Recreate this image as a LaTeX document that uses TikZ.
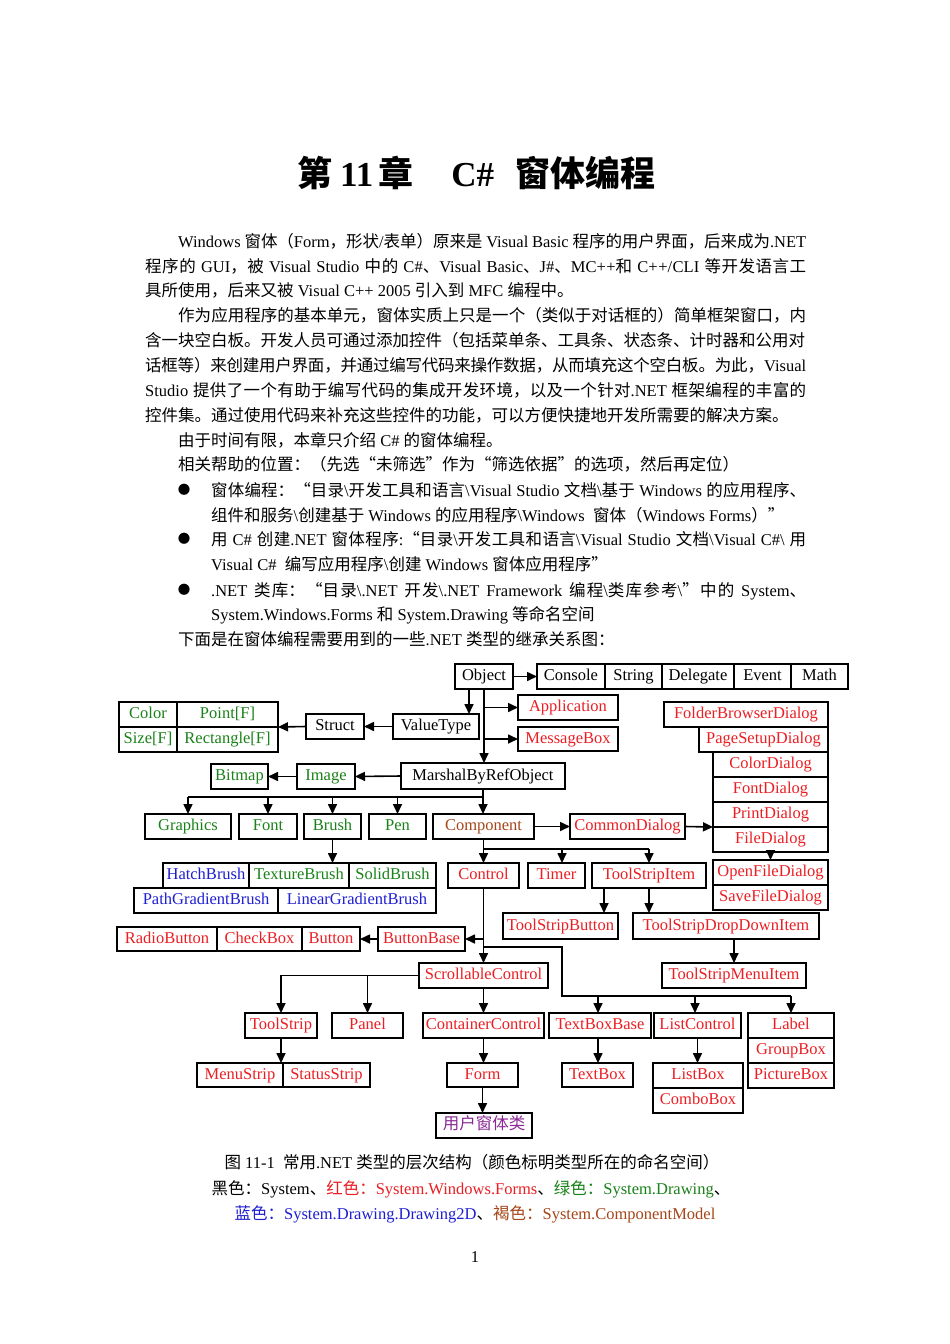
\documentclass[tikz,border=0pt]{standalone}
\usepackage{fontspec}
\setmainfont{Liberation Serif}
\newfontfamily\cjkfont{Noto Sans CJK SC}
\usetikzlibrary{arrows.meta}
% --- automatic switch to the CJK font for CJK characters ---
\XeTeXinterchartokenstate=1
\newXeTeXintercharclass\CJKcls
\makeatletter
\count@="4E00
\loop\XeTeXcharclass\count@=\CJKcls\ifnum\count@<"9FFF\advance\count@\@ne\repeat
\count@="3000
\loop\XeTeXcharclass\count@=\CJKcls\ifnum\count@<"303F\advance\count@\@ne\repeat
\count@="FF00
\loop\XeTeXcharclass\count@=\CJKcls\ifnum\count@<"FFEF\advance\count@\@ne\repeat
\XeTeXcharclass"201C=\CJKcls
\XeTeXcharclass"201D=\CJKcls
\XeTeXcharclass"25CF=\CJKcls
\makeatother
\XeTeXinterchartoks 0 \CJKcls = {\begingroup\cjkfont}
\XeTeXinterchartoks 4095 \CJKcls = {\begingroup\cjkfont}
\XeTeXinterchartoks \CJKcls 0 = {\endgroup}
\XeTeXinterchartoks \CJKcls 4095 = {\endgroup}
\XeTeXlinebreaklocale "zh"
\XeTeXlinebreakskip=0pt plus 1pt minus 0.3pt
% --- colours ---
\definecolor{cred}{RGB}{235,30,35}
\definecolor{cgreen}{RGB}{25,130,25}
\definecolor{cblue}{RGB}{30,30,210}
\definecolor{cbrown}{RGB}{165,70,25}
\definecolor{cpurple}{RGB}{140,40,150}
\newcommand\bfnt{\fontsize{16.5}{20}\selectfont}
\newcommand\dgfnt{\fontsize{16.5}{18}\selectfont}
\newcommand\bx[7]{\node[box,text=#6,minimum width={#4-#2},minimum height={#5-#3}] (#1) at ({(#2+#4)/2},{(#3+#5)/2}) {#7};}
\newcommand\bs{\textbackslash}
\newcommand\jline[2]{\parbox[b]{#1}{\parindent=0pt\parfillskip=0pt\tolerance=10000\emergencystretch=0pt\relax #2}}
\begin{document}
\begin{tikzpicture}[x=1pt,y=-1pt,
  box/.style={draw,line width=1.3pt,inner sep=0pt,outer sep=0pt,font=\dgfnt,text height=11.5pt,text depth=3.5pt},
  thickbox/.style={line width=1.9pt},
  arr/.style={draw,line width=1.6pt,-{Triangle[length=10pt,width=9pt]}},
  ln/.style={draw,line width=1.6pt},
  tl/.style={anchor=base west,inner sep=0pt,font=\bfnt},
  cl/.style={anchor=base,inner sep=0pt,font=\bfnt},
  bul/.style={inner sep=0pt,font=\fontsize{12.5}{14}\selectfont}]
\fill[white] (0,0) rectangle (950,1344);
\useasboundingbox (0,0) rectangle (950,1344);

% ---------- title ----------
\node[anchor=base west,inner sep=0pt,font=\fontsize{35}{40}\selectfont\bfseries] (title) at (297,186)
  {第\hspace{8pt}11\hspace{5pt}章\hspace{38pt}C\#\hspace{21pt}窗体编程};

% ---------- body text ----------
\node[tl] (l1) at (178,247) {\jline{628pt}{Windows 窗体（Form，形状/表单）原来是 Visual Basic 程序的用户界面，后来成为.NET}};
\node[tl] (l2) at (145,272) {\jline{661pt}{程序的 GUI，被 Visual Studio 中的 C\#、Visual Basic、J\#、MC++和 C++/CLI 等开发语言工}};
\node[tl] (l3) at (145,296) {具所使用，后来又被 Visual C++ 2005 引入到 MFC 编程中。};
\node[tl] (l4) at (178,321) {\jline{628pt}{作为应用程序的基本单元，窗体实质上只是一个（类似于对话框的）简单框架窗口，内}};
\node[tl] (l5) at (145,346) {含一块空白板。开发人员可通过添加控件（包括菜单条、工具条、状态条、计时器和公用对};
\node[tl] (l6) at (145,371) {\jline{661pt}{话框等）来创建用户界面，并通过编写代码来操作数据，从而填充这个空白板。为此，Visual}};
\node[tl] (l7) at (145,396) {\jline{661pt}{Studio 提供了一个有助于编写代码的集成开发环境，以及一个针对.NET 框架编程的丰富的}};
\node[tl] (l8) at (145,421) {控件集。通过使用代码来补充这些控件的功能，可以方便快捷地开发所需要的解决方案。};
\node[tl] (l9) at (178,446) {由于时间有限，本章只介绍 C\# 的窗体编程。};
\node[tl] (l10) at (178,470) {相关帮助的位置：（先选“未筛选”作为“筛选依据”的选项，然后再定位）};
\node[bul] (b1) at (184,490) {●};
\node[tl] (l11) at (211,496) {\jline{595pt}{窗体编程：“目录\bs 开发工具和语言\bs Visual Studio 文档\bs 基于 Windows 的应用程序、}};
\node[tl] (l12) at (211,521) {组件和服务\bs 创建基于 Windows 的应用程序\bs Windows\ \ 窗体（Windows Forms）”};
\node[bul] (b2) at (184,539) {●};
\node[tl] (l13) at (211,545) {\jline{595pt}{用 C\# 创建.NET 窗体程序:“目录\bs 开发工具和语言\bs Visual Studio 文档\bs Visual C\#\bs\ 用}};
\node[tl] (l14) at (211,570) {Visual C\#\ \ 编写应用程序\bs 创建 Windows 窗体应用程序”};
\node[bul] (b3) at (184,590) {●};
\node[tl] (l15) at (211,596) {\jline{595pt}{.NET 类库：“目录\bs.NET 开发\bs.NET Framework 编程\bs 类库参考\bs”中的 System、}};
\node[tl] (l16) at (211,620) {System.Windows.Forms 和 System.Drawing 等命名空间};
\node[tl] (l17) at (178,645) {下面是在窗体编程需要用到的一些.NET 类型的继承关系图：};

% ---------- diagram boxes ----------
\bx{obj}{455}{664}{513}{689}{black}{Object}
\bx{console}{537}{664}{605}{689}{black}{Console}
\bx{string}{605}{664}{662}{689}{black}{String}
\bx{delegate}{662}{664}{734}{689}{black}{Delegate}
\bx{event}{734}{664}{791}{689}{black}{Event}
\bx{math}{791}{664}{848}{689}{black}{Math}
\bx{app}{518}{695}{618}{720}{cred}{Application}
\bx{mb}{518}{727}{618}{751}{cred}{MessageBox}
\bx{vt}{393}{714}{479}{739}{black}{ValueType}
\bx{struct}{306}{714}{364}{739}{black}{Struct}
\bx{color}{119}{702}{177}{727}{cgreen}{Color}
\bx{point}{177}{702}{278}{727}{cgreen}{Point[F]}
\bx{size}{119}{727}{177}{752}{cgreen}{Size[F]}
\bx{rect}{177}{727}{278}{752}{cgreen}{Rectangle[F]}
\bx{fbd}{664}{702}{828}{727}{cred}{FolderBrowserDialog}
\bx{psd}{699}{727}{828}{752}{cred}{PageSetupDialog}
\bx{cdlg}{713}{752}{828}{777}{cred}{ColorDialog}
\bx{fdlg}{713}{777}{828}{802}{cred}{FontDialog}
\bx{pdlg}{713}{802}{828}{827}{cred}{PrintDialog}
\bx{filed}{713}{827}{828}{852}{cred}{FileDialog}
\begin{scope}[box/.append style={thickbox}]
\bx{mbro}{401}{763}{565}{789}{black}{MarshalByRefObject}
\bx{img}{297}{764}{355}{789}{cgreen}{Image}
\bx{bmp}{211}{764}{268}{789}{cgreen}{Bitmap}
\end{scope}
\bx{graphics}{145}{814}{231}{839}{cgreen}{Graphics}
\bx{font}{239}{814}{297}{839}{cgreen}{Font}
\bx{brush}{304}{814}{361}{839}{cgreen}{Brush}
\bx{pen}{369}{814}{426}{839}{cgreen}{Pen}
\bx{comp}{433}{814}{534}{839}{cbrown}{Component}
\bx{cd}{570}{814}{685}{839}{cred}{CommonDialog}
\bx{hatch}{163}{863}{249}{888}{cblue}{HatchBrush}
\bx{texture}{249}{863}{349}{888}{cgreen}{TextureBrush}
\bx{solid}{349}{863}{436}{888}{cgreen}{SolidBrush}
\bx{pathg}{134}{888}{278}{913}{cblue}{PathGradientBrush}
\bx{lineg}{278}{888}{436}{913}{cblue}{LinearGradientBrush}
\bx{control}{448}{863}{519}{888}{cred}{Control}
\bx{timer}{528}{863}{585}{888}{cred}{Timer}
\bx{tsi}{592}{863}{706}{888}{cred}{ToolStripItem}
\bx{ofd}{713}{860}{828}{885}{cred}{OpenFileDialog}
\bx{sfd}{713}{885}{828}{910}{cred}{SaveFileDialog}
\bx{tsb}{503}{913}{618}{939}{cred}{ToolStripButton}
\bx{tsddi}{633}{913}{819}{939}{cred}{ToolStripDropDownItem}
\bx{radio}{117}{927}{217}{951}{cred}{RadioButton}
\bx{check}{217}{927}{302}{951}{cred}{CheckBox}
\bx{button}{302}{927}{360}{951}{cred}{Button}
\bx{bb}{378}{927}{465}{951}{cred}{ButtonBase}
\bx{sc}{419}{963}{548}{988}{cred}{ScrollableControl}
\bx{tsmi}{662}{963}{806}{988}{cred}{ToolStripMenuItem}
\bx{ts}{245}{1013}{317}{1038}{cred}{ToolStrip}
\bx{panel}{332}{1013}{403}{1038}{cred}{Panel}
\bx{cc}{423}{1013}{544}{1038}{cred}{ContainerControl}
\bx{tbb}{549}{1013}{651}{1038}{cred}{TextBoxBase}
\bx{lc}{654}{1013}{741}{1038}{cred}{ListControl}
\bx{label}{748}{1013}{834}{1038}{cred}{Label}
\bx{gb}{748}{1038}{834}{1063}{cred}{GroupBox}
\bx{pb}{748}{1063}{834}{1088}{cred}{PictureBox}
\bx{menus}{197}{1063}{283}{1087}{cred}{MenuStrip}
\bx{statuss}{283}{1063}{370}{1087}{cred}{StatusStrip}
\bx{form}{447}{1063}{518}{1087}{cred}{Form}
\bx{tb}{562}{1063}{633}{1087}{cred}{TextBox}
\bx{lb}{653}{1063}{743}{1088}{cred}{ListBox}
\bx{combo}{653}{1088}{743}{1113}{cred}{ComboBox}
\begin{scope}[box/.append style={line width=2.2pt}]
\bx{uf}{436}{1113}{532}{1138}{cpurple}{用户窗体类}
\end{scope}

% ---------- guide coordinates ----------
\coordinate (x469) at (469,0);
\coordinate (x562) at (562,0);
\coordinate (x604) at (604,0);
\coordinate (x598) at (598,0);
\coordinate (x695) at (695,0);
\coordinate (j797) at (0,797);
\coordinate (j849) at (0,849);
\coordinate (j947) at (0,947);
\coordinate (j996) at (0,996);

% ---------- connectors ----------
\draw[arr] (obj.east) -- (console.west);
\draw[arr] (x469 |- obj.south) -- (x469 |- vt.north);
\draw[arr] (obj.south) -- (obj.south |- mbro.north);
\draw[arr] (obj.south |- app.west) -- (app.west);
\draw[arr] (obj.south |- mb.west) -- (mb.west);
\draw[arr] (vt.west) -- (struct.east);
\draw[arr] (struct.west) -- (point.south east);
\draw[arr] (mbro.west) -- (img.east);
\draw[arr] (img.west) -- (bmp.east);
\draw[ln] (mbro.south |- j797) -- (graphics.north |- j797);
\draw[arr] (graphics.north |- j797) -- (graphics.north);
\draw[arr] (font.north |- j797) -- (font.north);
\draw[arr] (brush.north |- j797) -- (brush.north);
\draw[arr] (pen.north |- j797) -- (pen.north);
\draw[arr] (mbro.south) -- (mbro.south |- comp.north);
\draw[arr] (comp.east) -- (cd.west);
\draw[arr] (cd.east) -- (pdlg.south west);
\draw[arr] (filed.south) -- (filed.south |- ofd.north);
\draw[arr] (brush.south) -- (brush.south |- texture.north);
\draw[ln] (comp.south) -- (comp.south |- j849) -- (tsi.north |- j849);
\draw[arr] (control.north |- j849) -- (control.north);
\draw[arr] (x562 |- j849) -- (x562 |- timer.north);
\draw[arr] (tsi.north |- j849) -- (tsi.north);
\draw[arr] (x604 |- tsi.south) -- (x604 |- tsb.north);
\draw[arr] (tsi.south) -- (tsi.south |- tsddi.north);
\draw[arr] (tsmi.north |- tsddi.south) -- (tsmi.north);
\draw[arr] (control.south) -- (control.south |- sc.north);
\draw[arr] (control.south |- bb.east) -- (bb.east);
\draw[arr] (bb.west) -- (button.east);
\draw[ln] (control.south |- j947) -- (x562 |- j947) -- (x562 |- j996) -- (label.north |- j996);
\draw[arr] (x598 |- j996) -- (x598 |- tbb.north);
\draw[arr] (x695 |- j996) -- (x695 |- lc.north);
\draw[arr] (label.north |- j996) -- (label.north);
\draw[arr] (sc.west) -| (ts.north);
\draw[arr] (panel.north |- sc.west) -- (panel.north);
\draw[arr] (sc.south) -- (sc.south |- cc.north);
\draw[arr] (ts.south) -- (ts.south |- menus.north);
\draw[arr] (x598 |- tbb.south) -- (x598 |- tb.north);
\draw[arr] (lc.south) -- (lc.south |- lb.north);
\draw[arr] (cc.south) -- (cc.south |- form.north);
\draw[arr] (form.south) -- (form.south |- uf.north);

% ---------- caption ----------
\node[cl] (c1) at (472,1168) {图 11-1\ \ 常用.NET 类型的层次结构（颜色标明类型所在的命名空间）};
\node[cl] (c2) at (471,1194) {黑色：System、{\color{cred}红色：System.Windows.Forms}、{\color{cgreen}绿色：System.Drawing}、};
\node[cl] (c3) at (475,1219) {{\color{cblue}蓝色：System.Drawing.Drawing2D}、{\color{cbrown}褐色：System.ComponentModel}};
\node[cl] (pg) at (475,1262) {1};
\end{tikzpicture}
\end{document}
